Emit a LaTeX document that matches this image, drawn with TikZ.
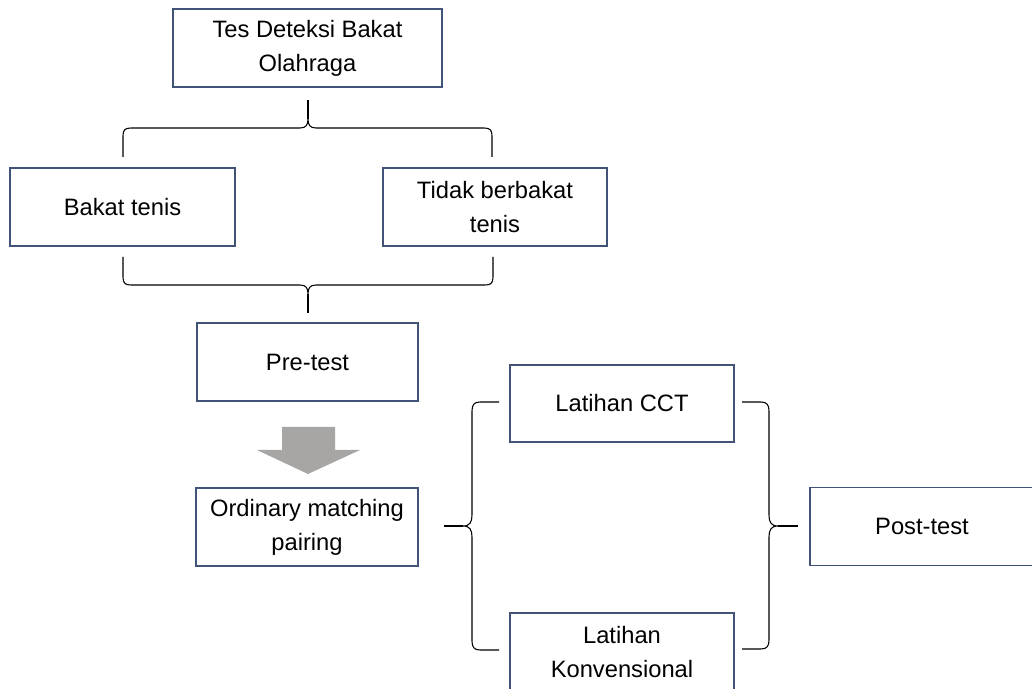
\documentclass[tikz,border=0pt]{standalone}
\usepackage{fontspec}
\setmainfont{Liberation Sans}
\definecolor{boxblue}{RGB}{65,84,120}
\definecolor{arrowgray}{RGB}{168,166,165}
\tikzset{
  stagebox/.style={draw=boxblue, line width=0.8pt, fill=white, minimum width=4.48cm, minimum height=1.56cm, align=center, inner sep=2pt, font={\fontsize{13.5}{19.3}\selectfont}},
  bracket/.style={line width=0.6pt, color=black}
}
\begin{document}
\begin{tikzpicture}[x=0.02cm,y=-0.02cm]
\useasboundingbox (0,0) rectangle (1032,689);
% boxes
\node [stagebox, minimum width=5.38cm] (tes) at (307.5,48) {Tes Deteksi Bakat\\Olahraga};
\node [stagebox, minimum width=4.5cm] (bakat) at (122.5,207) {Bakat tenis};
\node [stagebox] (tidak) at (495,207) {Tidak berbakat\\tenis};
\node [stagebox, minimum width=4.42cm] (pretest) at (307.5,362) {Pre-test};
\node [stagebox, minimum width=4.44cm] (pairing) at (307,527) {Ordinary matching\\pairing};
\node [stagebox, minimum height=1.54cm] (cct) at (622,403.5) {Latihan CCT};
\node [stagebox] (konv) at (622,652) {Latihan\\Konvensional};
\node [stagebox] (post) at (922,526.5) {Post-test};
% grey arrow
\fill [arrowgray] (282,427) -- (335,427) -- (335,450) -- (360,450) -- (308,474) -- (257,450) -- (282,450) -- cycle;
% braces
\draw [bracket] (123,157) -- (123,136) .. controls (123,130) and (125,128) .. (131,128) -- (300,128) .. controls (306,128) and (308,125) .. (308,119) .. controls (308,125) and (310,128) .. (316,128) -- (484,128) .. controls (490,128) and (492,130) .. (492,136) -- (492,157);
\draw [bracket] (308,119) -- (308,100);
\draw [bracket] (123,257) -- (123,277) .. controls (123,283) and (125,285) .. (131,285) -- (300,285) .. controls (306,285) and (308,288) .. (308,294) .. controls (308,288) and (310,285) .. (316,285) -- (485,285) .. controls (491,285) and (493,283) .. (493,277) -- (493,257);
\draw [bracket] (308,294) -- (308,313);
\draw [bracket] (499,402) -- (480,402) .. controls (474,402) and (472,405) .. (472,411) -- (472,515) .. controls (472,522) and (470,526) .. (463,526) .. controls (470,526) and (472,530) .. (472,537) -- (472,641) .. controls (472,647) and (474,650) .. (480,650) -- (499,650);
\draw [bracket] (463,526) -- (444,526);
\draw [bracket] (742,402) -- (761,402) .. controls (767,402) and (769,405) .. (769,411) -- (769,515) .. controls (769,522) and (771,526) .. (778,526) .. controls (771,526) and (769,530) .. (769,537) -- (769,640) .. controls (769,646) and (767,649) .. (761,649) -- (742,649);
\draw [bracket] (778,526) -- (798,526);
\end{tikzpicture}
\end{document}
